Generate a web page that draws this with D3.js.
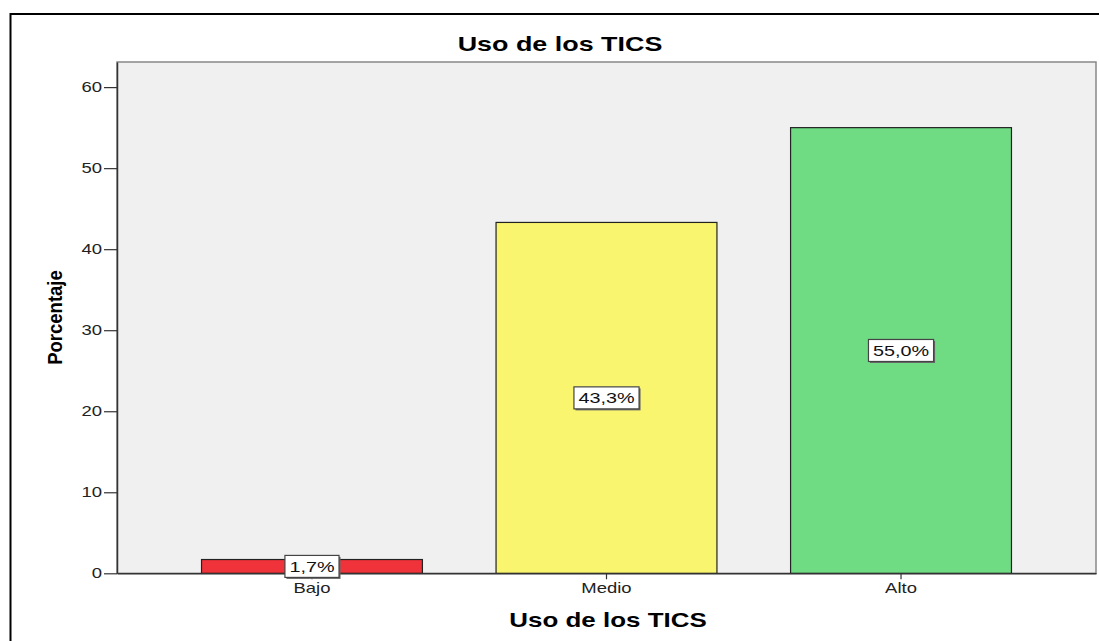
<!DOCTYPE html>
<html>
<head>
<meta charset="utf-8">
<script src="https://cdn.jsdelivr.net/npm/d3@7"></script>
<style>
  html, body { margin: 0; padding: 0; background: #fff; }
  svg { display: block; }
  text { font-family: "Liberation Sans", Arial, sans-serif; }
</style>
</head>
<body>
<svg id="chart" width="1099" height="641"></svg>
<script>
const categories = ["Bajo", "Medio", "Alto"];
const percentages = [1.7, 43.3, 55.0];
const valueLabels = ["1,7%", "43,3%", "55,0%"];
const yTicks = [0, 10, 20, 30, 40, 50, 60];
const barColors = ["#f0323a", "#faf56e", "#6fdc84"];
const chartTitle = "Uso de los TICS";
const xTitle = "Uso de los TICS";
const yTitle = "Porcentaje";

(function () {
const SX = 1.32; // horizontal text stretch seen in reference
const svg = d3.select("#chart");
const pLeft = 117, pRight = 1096, pTop = 62, pBottom = 573.3;

// outer frame
svg.append("rect").attr("x", 10.5).attr("y", 14).attr("width", 1100).attr("height", 700)
  .attr("fill", "none").attr("stroke", "#000").attr("stroke-width", 2);

const x = d3.scaleBand().domain(categories).range([pLeft, pRight])
  .paddingInner(0.25).paddingOuter(0.287);
const y = d3.scaleLinear().domain([0, 63.1]).range([pBottom, pTop]);

// plot background
svg.append("rect").attr("x", pLeft).attr("y", pTop)
  .attr("width", pRight - pLeft).attr("height", pBottom - pTop)
  .attr("fill", "#f0f0f0").attr("stroke", "#888").attr("stroke-width", 1.5);

// bars
svg.selectAll("rect.bar").data(categories).enter().append("rect")
  .attr("class", "bar")
  .attr("x", d => x(d))
  .attr("y", (d, i) => y(percentages[i]))
  .attr("width", x.bandwidth())
  .attr("height", (d, i) => y(0) - y(percentages[i]))
  .attr("fill", (d, i) => barColors[i])
  .attr("stroke", "#222").attr("stroke-width", 1.2);

// y axis
const gy = svg.append("g").attr("transform", `translate(${pLeft},0)`)
  .call(d3.axisLeft(y).tickValues(yTicks).tickSize(13).tickSizeOuter(0).tickPadding(2).tickFormat(d3.format("d")));
gy.select(".domain").attr("stroke", "#333").attr("stroke-width", 1.5);
gy.selectAll(".tick line").attr("stroke", "#333").attr("stroke-width", 1.2);
gy.selectAll(".tick text").attr("x", 0)
  .attr("transform", `translate(-15,0) scale(${SX},1)`)
  .attr("font-size", 14).attr("fill", "#222")
  .attr("font-family", "'Liberation Sans', Arial, sans-serif");

// x axis
const gx = svg.append("g").attr("transform", `translate(0,${pBottom})`)
  .call(d3.axisBottom(x).tickSize(6).tickSizeOuter(0).tickPadding(3));
gx.select(".domain").attr("stroke", "#333").attr("stroke-width", 1.5);
gx.selectAll(".tick line").attr("stroke", "#333").attr("stroke-width", 1.2);
gx.selectAll(".tick text").attr("y", 0).attr("dy", 0)
  .attr("transform", `translate(0,19.5) scale(${SX},1)`)
  .attr("font-size", 14).attr("fill", "#222")
  .attr("font-family", "'Liberation Sans', Arial, sans-serif");

// value labels
const lab = svg.selectAll("g.lab").data(categories).enter().append("g")
  .attr("class", "lab")
  .attr("transform", (d, i) => `translate(${x(d) + x.bandwidth() / 2},${(y(0) + y(percentages[i])) / 2})`);
lab.append("text")
  .attr("text-anchor", "middle").attr("dy", "0.36em")
  .attr("font-size", 15).attr("fill", "#111")
  .attr("transform", `scale(${SX},1)`)
  .text((d, i) => valueLabels[i]);
lab.each(function () {
  const g = d3.select(this);
  const t = g.select("text");
  const bb = t.node().getBBox();
  const w = bb.width * SX + 9, h = 22;
  g.insert("rect", "text").attr("x", -w / 2 + 1.5).attr("y", -h / 2 + 1.5)
    .attr("width", w).attr("height", h).attr("fill", "#666");
  g.insert("rect", "text").attr("x", -w / 2).attr("y", -h / 2)
    .attr("width", w).attr("height", h).attr("fill", "#fff")
    .attr("stroke", "#444").attr("stroke-width", 1.2);
});

// titles
svg.append("text").attr("transform", `translate(560,50.7) scale(1.38,1)`)
  .attr("text-anchor", "middle").attr("font-size", 19.5).attr("font-weight", "bold")
  .attr("fill", "#000").text(chartTitle);
svg.append("text").attr("transform", `translate(608,627) scale(1.33,1)`)
  .attr("text-anchor", "middle").attr("font-size", 19.5).attr("font-weight", "bold")
  .attr("fill", "#000").text(xTitle);
svg.append("text").attr("transform", `translate(62,317.5) rotate(-90) scale(1,1.12)`)
  .attr("text-anchor", "middle").attr("font-size", 18.5).attr("font-weight", "bold")
  .attr("fill", "#000").text(yTitle);
})();
</script>
</body>
</html>
